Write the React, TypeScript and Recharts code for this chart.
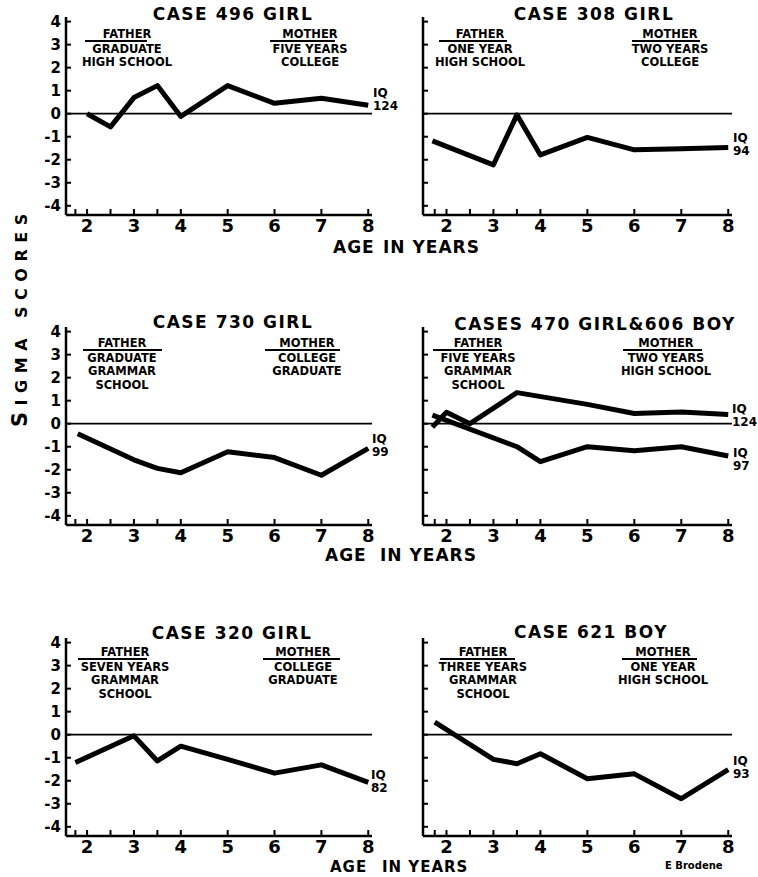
import React from 'react';
import { LineChart, Line, XAxis, YAxis, ReferenceLine } from 'recharts';

// Sigma scores, by age in years
const case496Ages = [2, 2.5, 3, 3.5, 4, 5, 6, 7, 8];
const case496Scores = [0, -0.57, 0.7, 1.22, -0.12, 1.22, 0.45, 0.67, 0.37];

const case308Ages = [1.7, 3, 3.5, 4, 5, 6, 7, 8];
const case308Scores = [-1.18, -2.22, -0.05, -1.79, -1.03, -1.57, -1.52, -1.47];

const case730Ages = [1.8, 3, 3.5, 4, 5, 6, 7, 8];
const case730Scores = [-0.44, -1.57, -1.94, -2.13, -1.22, -1.47, -2.24, -1.07];

// cases 470 & 606 share a panel: one ends at IQ 124, the other at IQ 97
const pairHighAges = [1.7, 2, 2.5, 3.5, 5, 6, 7, 8];
const pairHighScores = [-0.15, 0.5, 0, 1.35, 0.84, 0.44, 0.51, 0.4];
const pairLowAges = [1.7, 3.5, 4, 5, 6, 7, 8];
const pairLowScores = [0.37, -1.0, -1.65, -1.0, -1.17, -1.0, -1.4];

const case320Ages = [1.75, 3, 3.5, 4, 5, 6, 7, 8];
const case320Scores = [-1.21, -0.05, -1.14, -0.5, -1.07, -1.67, -1.31, -2.07];

const case621Ages = [1.75, 3, 3.5, 4, 5, 6, 7, 8];
const case621Scores = [0.55, -1.07, -1.26, -0.83, -1.91, -1.7, -2.78, -1.52];

const ageTicks = [1.75, 2, 2.5, 3, 3.5, 4, 5, 6, 7, 8];
const scoreTicks = [-4, -3, -2, -1, 0, 1, 2, 3, 4];

const FONT = '"DejaVu Sans", Arial, sans-serif';

const toRows = (ages: number[], scores: number[]) =>
  ages.map((age, i) => ({ age, sigma: scores[i] }));

const AgeTick = ({ x, y, payload }: any) => (
  <g>
    <line x1={x} x2={x} y1={y} y2={y - 6} stroke="#000" strokeWidth={2} />
    {Number.isInteger(payload.value) && (
      <text x={x} y={y + 17} textAnchor="middle" fontSize={18} fontWeight="bold" fontFamily={FONT} fill="#000">
        {payload.value}
      </text>
    )}
  </g>
);

const ScoreTick = ({ x, y, payload, showLabel }: any) => (
  <g>
    <line x1={x} x2={x + 5} y1={y} y2={y} stroke="#000" strokeWidth={2} />
    {showLabel && (
      <text x={x - 5} y={y + 5.5} textAnchor="end" fontSize={15} fontWeight="bold" fontFamily={FONT} fill="#000">
        {payload.value < 0 ? `-${-payload.value}` : payload.value}
      </text>
    )}
  </g>
);

interface PanelProps {
  left: number;
  top: number;
  series: { ages: number[]; scores: number[] }[];
  leftColumn: boolean;
}

const Panel: React.FC<PanelProps> = ({ left, top, series, leftColumn }) => {
  const width = leftColumn ? 400 : 378;
  const margin = leftColumn
    ? { top: 17, right: 28, bottom: 2, left: 36 }
    : { top: 17, right: 26, bottom: 2, left: 13 };
  return (
    <div style={{ position: 'absolute', left, top }}>
      <LineChart width={width} height={247} margin={margin}>
        <XAxis
          type="number"
          dataKey="age"
          domain={leftColumn ? [1.55, 8.08] : [1.5, 8.08]}
          ticks={ageTicks}
          interval={0}
          allowDataOverflow
          height={30}
          tickSize={0}
          tickMargin={0}
          tickLine={false}
          tick={<AgeTick />}
          axisLine={{ stroke: '#000', strokeWidth: 2.5 }}
        />
        <YAxis
          type="number"
          domain={[-4.4, 4.2]}
          ticks={scoreTicks}
          interval={0}
          allowDataOverflow
          width={30}
          tickSize={0}
          tickMargin={0}
          tickLine={false}
          tick={<ScoreTick showLabel={leftColumn} />}
          axisLine={{ stroke: '#000', strokeWidth: 2.5 }}
        />
        <ReferenceLine y={0} stroke="#000" strokeWidth={1.8} />
        {series.map((s, i) => (
          <Line
            key={i}
            data={toRows(s.ages, s.scores)}
            dataKey="sigma"
            type="linear"
            stroke="#000"
            strokeWidth={5}
            strokeLinejoin="round"
            dot={false}
            activeDot={false}
            isAnimationActive={false}
          />
        ))}
      </LineChart>
    </div>
  );
};

interface NoteProps {
  cx: number;
  lines: string[];
  top: number;
  underline: [number, number];
}

// parent's schooling, first line underlined
const Note: React.FC<NoteProps> = ({ cx, lines, top, underline }) => (
  <g>
    {lines.map((t, i) => (
      <text key={t} x={cx} y={top + i * 13.5 + (i > 0 ? 1 : 0)} textAnchor="middle" fontSize={11.5} fontWeight="bold">
        {t}
      </text>
    ))}
    <line x1={underline[0]} x2={underline[1]} y1={top + 3} y2={top + 3} stroke="#000" strokeWidth={1.8} />
  </g>
);

const IQ: React.FC<{ x: number; y: number; iq: string }> = ({ x, y, iq }) => (
  <g fontSize={12} fontWeight="bold">
    <text x={x} y={y}>IQ</text>
    <text x={x} y={y + 13}>{iq}</text>
  </g>
);

const Title: React.FC<{ cx: number; y: number; text: string }> = ({ cx, y, text }) => (
  <text x={cx} y={y} textAnchor="middle" fontSize={17} fontWeight="bold" letterSpacing={1.5}>
    {text}
  </text>
);

const AgeLabel: React.FC<{ x1: number; x2: number; y: number; size?: number }> = ({ x1, x2, y, size = 17 }) => (
  <g fontSize={size} fontWeight="bold" letterSpacing={1}>
    <text x={x1} y={y}>AGE</text>
    <text x={x2} y={y}>IN YEARS</text>
  </g>
);

export default function App() {
  return (
    <div style={{ position: 'absolute', left: 0, top: 0, width: 758, height: 877, background: '#fff', overflow: 'hidden' }}>
      <Panel left={0} top={0} leftColumn series={[{ ages: case496Ages, scores: case496Scores }]} />
      <Panel left={380} top={0} leftColumn={false} series={[{ ages: case308Ages, scores: case308Scores }]} />
      <Panel left={0} top={310} leftColumn series={[{ ages: case730Ages, scores: case730Scores }]} />
      <Panel
        left={380}
        top={310}
        leftColumn={false}
        series={[
          { ages: pairHighAges, scores: pairHighScores },
          { ages: pairLowAges, scores: pairLowScores },
        ]}
      />
      <Panel left={0} top={621} leftColumn series={[{ ages: case320Ages, scores: case320Scores }]} />
      <Panel left={380} top={621} leftColumn={false} series={[{ ages: case621Ages, scores: case621Scores }]} />

      <svg width={758} height={877} style={{ position: 'absolute', left: 0, top: 0, pointerEvents: 'none' }} fontFamily={FONT} fill="#000">
        <Title cx={233} y={20} text="CASE 496 GIRL" />
        <Title cx={594} y={20} text="CASE 308 GIRL" />
        <Title cx={233} y={328} text="CASE 730 GIRL" />
        <Title cx={595} y={330} text="CASES 470 GIRL&606 BOY" />
        <Title cx={232} y={639} text="CASE 320 GIRL" />
        <Title cx={591} y={638} text="CASE 621 BOY" />

        <Note cx={127} lines={['FATHER', 'GRADUATE', 'HIGH SCHOOL']} top={38} underline={[85, 147]} />
        <Note cx={310} lines={['MOTHER', 'FIVE YEARS', 'COLLEGE']} top={38} underline={[270, 335]} />
        <Note cx={480} lines={['FATHER', 'ONE YEAR', 'HIGH SCHOOL']} top={38} underline={[439, 507]} />
        <Note cx={670} lines={['MOTHER', 'TWO YEARS', 'COLLEGE']} top={38} underline={[632, 700]} />

        <Note cx={122} lines={['FATHER', 'GRADUATE', 'GRAMMAR', 'SCHOOL']} top={347} underline={[83, 162]} />
        <Note cx={307} lines={['MOTHER', 'COLLEGE', 'GRADUATE']} top={347} underline={[265, 340]} />
        <Note cx={478} lines={['FATHER', 'FIVE YEARS', 'GRAMMAR', 'SCHOOL']} top={347} underline={[433, 502]} />
        <Note cx={666} lines={['MOTHER', 'TWO YEARS', 'HIGH SCHOOL']} top={347} underline={[623, 702]} />

        <Note cx={125} lines={['FATHER', 'SEVEN YEARS', 'GRAMMAR', 'SCHOOL']} top={656} underline={[78, 147]} />
        <Note cx={303} lines={['MOTHER', 'COLLEGE', 'GRADUATE']} top={656} underline={[263, 340]} />
        <Note cx={483} lines={['FATHER', 'THREE YEARS', 'GRAMMAR', 'SCHOOL']} top={656} underline={[440, 515]} />
        <Note cx={663} lines={['MOTHER', 'ONE YEAR', 'HIGH SCHOOL']} top={656} underline={[622, 697]} />

        <IQ x={373} y={97} iq="124" />
        <IQ x={733} y={142} iq="94" />
        <IQ x={372} y={443} iq="99" />
        <IQ x={732} y={413} iq="124" />
        <IQ x={733} y={457} iq="97" />
        <IQ x={371} y={779} iq="82" />
        <IQ x={733} y={765} iq="93" />

        <AgeLabel x1={333} x2={383} y={253} />
        <AgeLabel x1={325} x2={380} y={561} />
        <AgeLabel x1={330} x2={382} y={872} size={15} />

        <text transform="translate(27 427) rotate(-90)" fontWeight="bold" letterSpacing={6.5}>
          <tspan fontSize={21}>S</tspan>
          <tspan fontSize={16}>IGMA</tspan>
          <tspan fontSize={16} dx={14}>SCORES</tspan>
        </text>

        <text x={665} y={869} fontSize={10} fontWeight="bold">E Brodene</text>
      </svg>
    </div>
  );
}
